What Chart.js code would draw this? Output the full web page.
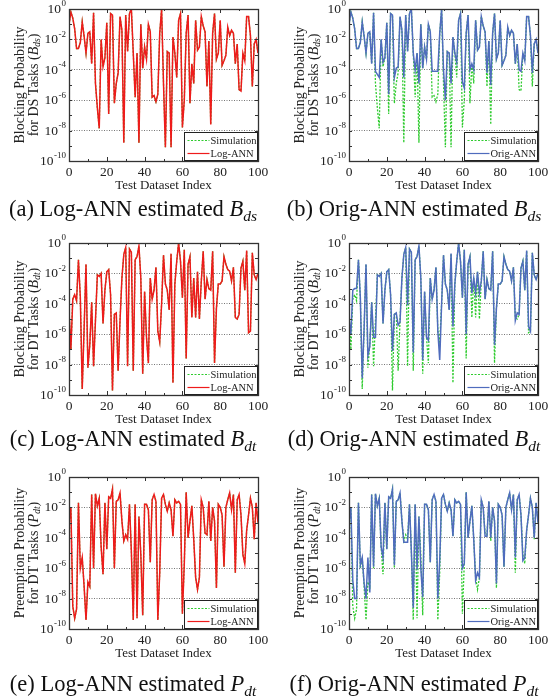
<!DOCTYPE html>
<html>
<head>
<meta charset="utf-8">
<script src="https://cdn.jsdelivr.net/npm/chart.js@4.4.1/dist/chart.umd.min.js"></script>
<style>
  body { margin: 0; background: #fff; }
  #fig { position: relative; width: 557px; height: 698px; overflow: hidden; }
  .panel { position: absolute; width: 280px; height: 200px; }
  .cap { position: absolute; width: 290px; text-align: center; font-family: "Liberation Serif", serif; font-size: 22.5px; color: #111; white-space: nowrap; }
  .cap sub { font-size: 15.5px; vertical-align: -5px; line-height: 0; }
</style>
</head>
<body>
<div id="fig"></div>
<script>
// values are log10 of the probability (index 0..100)
var simDsLog = [
  -1.0,-0.2,-0.6,-1.3,-2.6,-2.6,-2.2,-0.85,-1.8,-2.9,
  -1.6,-1.5,-3.6,-0.25,-4.9,-6.5,-7.85,-2.0,-3.8,-3.2,
  -0.9,-6.9,-0.3,-0.4,-6.2,-4.9,-4.2,-0.5,-1.4,-8.8,
  -0.4,-2.8,-0.3,0,-2.9,-5.8,-2.9,-8.8,-1.0,-3.9,
  -2.5,-3.3,-1.0,-1.5,-5.8,-5.7,-6.1,-5.6,-1.6,0,
  -4.9,-9.1,-2.8,-2.9,-9.1,-1.85,-2.9,-4.5,-0.75,-0.3,
  -7.8,-6.0,-1.6,-0.4,-6.2,-3.6,-4.9,-0.75,-2.7,-2.5,
  -0.5,-1.1,-1.5,-5.1,-2.1,-7.6,-1.6,-0.3,-3.3,-2.9,
  -0.75,-3.7,-3.4,-3.05,-1.2,-1.75,-1.4,-1.6,-3.6,-2.3,
  -5.3,-5.4,-2.9,-3.4,-0.5,-0.5,-1.75,-5.1,-2.3,-2.0,
  -2.9
];
var origDsLog = [
  -1.0,-0.2,-0.6,-1.3,-2.6,-2.6,-2.2,-0.85,-1.8,-2.9,
  -1.6,-1.5,-3.6,-0.25,-4.1,-4.3,-4.5,-2.0,-3.5,-3.2,
  -0.9,-5.6,-0.3,-0.4,-4.5,-3.9,-3.8,-0.5,-1.4,-4.5,
  -0.4,-2.8,-0.3,0,-2.9,-4.0,-2.9,-4.9,-1.0,-3.9,
  -2.5,-3.3,-1.0,-1.5,-4.1,-4.1,-4.1,-4.1,-1.6,0,
  -4.0,-6.0,-2.8,-2.9,-4.9,-1.85,-2.9,-3.5,-0.75,-0.3,
  -4.8,-5.2,-1.6,-0.4,-4.0,-3.6,-4.0,-0.75,-2.7,-2.5,
  -0.5,-1.1,-1.5,-4.2,-2.1,-5.0,-1.6,-0.3,-3.3,-2.9,
  -0.75,-3.7,-3.4,-3.05,-1.2,-1.75,-1.4,-1.6,-3.6,-2.3,
  -4.0,-4.1,-2.9,-3.4,-0.5,-0.5,-1.75,-4.2,-2.3,-2.0,
  -2.9
];
var simDtLog = [
  -4.5,-7.0,-3.7,-3.4,-3.8,-1.1,-3.6,-9.6,-5.6,-1.4,
  -8.2,-6.7,-3.9,-8.1,-5.1,-2.1,-2.2,-2.0,-5.3,-3.1,
  -1.9,-1.75,-3.4,-9.7,-4.7,-4.6,-8.4,-5.1,-2.3,-0.75,
  -0.3,-8.1,-0.4,-0.6,-8.4,-1.1,-0.9,-0.2,-2.3,-8.6,
  -3.2,-6.2,-7.9,-2.3,-3.7,-3.1,-1.6,-5.8,-6.5,-4.0,
  -0.8,-2.7,-3.1,-4.4,-0.7,-9.2,-2.7,-1.2,0,-1.2,
  -3.6,-0.45,-7.6,-1.4,-0.9,-4.9,-2.3,-4.9,-1.9,-5.0,
  -2.5,-0.55,-3.7,-2.4,-3.0,-3.1,-0.55,-7.9,-4.3,-2.7,
  -2.7,-2.5,-0.9,-1.4,-1.75,-1.85,-2.5,-1.6,-4.9,-5.0,
  -4.7,-1.65,-1.2,-3.1,-0.5,-5.9,-5.8,-0.65,-2.1,-2.4,
  -2.0
];
var origDtLog = [
  -5.0,-6.0,-3.1,-3.0,-3.0,-1.1,-3.6,-8.9,-5.6,-1.4,
  -7.4,-6.8,-3.9,-6.2,-6.2,-2.1,-2.2,-2.0,-5.3,-3.1,
  -1.9,-1.75,-3.4,-7.1,-4.7,-4.6,-5.4,-5.2,-2.3,-0.75,
  -0.3,-4.1,-0.4,-0.6,-7.2,-1.1,-0.9,-0.2,-2.3,-7.7,
  -3.2,-6.2,-6.4,-2.3,-3.7,-3.1,-1.6,-5.8,-7.7,-4.0,
  -0.8,-2.7,-3.1,-4.4,-0.7,-5.5,-2.7,-1.2,0,-1.2,
  -3.6,-0.45,-6.0,-1.4,-0.9,-3.3,-2.3,-3.3,-1.9,-3.3,
  -2.5,-0.55,-3.7,-2.4,-3.0,-3.1,-0.55,-6.7,-4.3,-2.7,
  -2.7,-2.5,-0.9,-1.4,-1.75,-1.85,-2.5,-1.6,-5.1,-4.6,
  -4.7,-1.65,-1.2,-3.1,-0.5,-5.5,-5.8,-0.65,-2.1,-2.4,
  -2.0
];
var simPdtLog = [
  -3.0,-2.0,-8.5,-9.3,-8.7,-1.7,-6.0,-5.3,-7.2,-9.4,
  -6.9,-7.2,-1.15,-6.0,-1.1,-1.9,-1.4,-4.6,-6.4,-1.7,
  -4.75,-1.3,-1.4,-0.8,-6.0,-1.6,-1.5,-1.05,-2.9,-4.2,
  -3.8,-4.1,-1.8,-4.9,-9.4,-1.8,-9.3,-2.6,-5.1,-9.1,
  -1.8,-1.8,-2.15,-5.6,-1.5,-1.15,-1.6,-9.4,-6.3,-1.4,
  -1.15,-1.8,-2.25,-1.7,-2.15,-3.9,-1.5,-1.7,-1.6,-1.8,
  -9.0,-5.7,-1.0,-4.0,-2.9,-1.9,-4.1,-6.6,-7.4,-6.6,
  -1.5,-2.0,-3.7,-3.8,-1.6,-4.2,-2.0,-2.9,-7.3,-1.8,
  -2.0,-2.5,-5.9,-2.0,-1.5,-1.05,-2.15,-1.15,-6.3,-1.5,
  -1.15,-2.5,-5.1,-5.7,-3.5,-2.5,-1.4,-2.0,-4.1,-1.7,
  -3.0
];
var origPdtLog = [
  -3.0,-2.0,-6.8,-8.0,-8.0,-1.7,-5.8,-5.3,-7.0,-8.0,
  -5.3,-7.6,-1.15,-5.9,-1.1,-1.9,-1.4,-4.6,-5.3,-1.7,
  -4.75,-1.3,-1.4,-0.8,-5.8,-1.6,-1.5,-1.05,-2.9,-4.3,
  -4.3,-4.3,-1.8,-4.9,-8.6,-1.8,-6.1,-2.6,-6.0,-7.9,
  -1.8,-1.8,-2.15,-5.6,-1.5,-1.15,-1.6,-8.0,-5.5,-1.4,
  -1.15,-1.8,-2.25,-1.7,-2.15,-3.9,-1.5,-1.7,-1.6,-1.8,
  -6.0,-5.7,-1.0,-4.0,-2.9,-1.9,-4.1,-6.8,-6.3,-6.6,
  -1.5,-2.0,-3.9,-3.9,-1.6,-4.0,-2.0,-2.9,-7.0,-1.8,
  -2.0,-2.5,-5.9,-2.0,-1.5,-1.05,-2.15,-1.15,-5.3,-1.5,
  -1.15,-2.5,-5.5,-5.3,-3.5,-2.5,-1.4,-2.0,-4.0,-1.7,
  -3.0
];
// Log-ANN sits on top of the simulation curve everywhere
var logAnnDsLog = simDsLog;
var logAnnDtLog = simDtLog;
var logAnnPdtLog = simPdtLog;

var xTicks = [0, 20, 40, 60, 80, 100];
var yDecades = [-10, -9, -8, -7, -6, -5, -4, -3, -2, -1, 0];

var SERIF = '"Liberation Serif", "Times New Roman", serif';
var GREEN = '#2fcb2f';
var RED = '#ee1b1b';
var BLUE = '#4f6cbd';

var panels = [
  {tag:'a', col:0, row:0, sim:simDsLog, est:logAnnDsLog, name:'Log-ANN', color:RED, line1:'Blocking Probability', pre:'for DS Tasks (', sym:'B', sub:'ds'},
  {tag:'b', col:1, row:0, sim:simDsLog, est:origDsLog, name:'Orig-ANN', color:BLUE, line1:'Blocking Probability', pre:'for DS Tasks (', sym:'B', sub:'ds'},
  {tag:'c', col:0, row:1, sim:simDtLog, est:logAnnDtLog, name:'Log-ANN', color:RED, line1:'Blocking Probability', pre:'for DT Tasks (', sym:'B', sub:'dt'},
  {tag:'d', col:1, row:1, sim:simDtLog, est:origDtLog, name:'Orig-ANN', color:BLUE, line1:'Blocking Probability', pre:'for DT Tasks (', sym:'B', sub:'dt'},
  {tag:'e', col:0, row:2, sim:simPdtLog, est:logAnnPdtLog, name:'Log-ANN', color:RED, line1:'Preemption Probability', pre:'for DT Tasks (', sym:'P', sub:'dt'},
  {tag:'f', col:1, row:2, sim:simPdtLog, est:origPdtLog, name:'Orig-ANN', color:BLUE, line1:'Preemption Probability', pre:'for DT Tasks (', sym:'P', sub:'dt'}
];
var rowTop = [0, 234, 468];
var capTop = [196, 426, 671];

function toPoints(arr) {
  var pts = [];
  for (var i = 0; i < arr.length; i++) pts.push({x: i, y: Math.pow(10, arr[i])});
  return pts;
}

function decorPlugin(p) {
  return {
    id: 'decor' + p.tag,
    afterDraw: function(chart) {
      var ctx = chart.ctx, a = chart.chartArea;
      var xs = chart.scales.x, ys = chart.scales.y;
      ctx.save();
      // frame and inward ticks
      ctx.strokeStyle = '#333';
      ctx.lineWidth = 1;
      ctx.beginPath();
      yDecades.forEach(function(e) {
        var y = Math.round(ys.getPixelForValue(Math.pow(10, e))) + 0.5;
        ctx.moveTo(a.left, y); ctx.lineTo(a.left + 3, y);
        ctx.moveTo(a.right, y); ctx.lineTo(a.right - 3, y);
      });
      for (var v = 0; v <= 100; v += 10) {
        var x = Math.round(xs.getPixelForValue(v)) + 0.5;
        var len = v % 20 === 0 ? 4 : 2;
        ctx.moveTo(x, a.top); ctx.lineTo(x, a.top + len);
        ctx.moveTo(x, a.bottom); ctx.lineTo(x, a.bottom - len);
      }
      ctx.stroke();
      ctx.lineWidth = 1.3;
      ctx.strokeRect(Math.round(a.left) + 0.5, Math.round(a.top) + 0.5, Math.round(a.right - a.left), Math.round(a.bottom - a.top));

      // y tick labels 10^e for even decades
      ctx.fillStyle = '#222';
      ctx.textBaseline = 'middle';
      ctx.textAlign = 'right';
      yDecades.forEach(function(e) {
        if (e % 2 !== 0) return;
        var y = ys.getPixelForValue(Math.pow(10, e));
        var ex = String(e);
        ctx.font = '9px ' + SERIF;
        var ew = ctx.measureText(ex).width;
        ctx.fillText(ex, a.left - 3, y - 5);
        ctx.font = '13.5px ' + SERIF;
        ctx.fillText('10', a.left - 3.5 - ew, y + 0.5);
      });

      // legend box
      var bx = Math.round(a.right) - 74 + 0.5, by = Math.round(a.bottom) - 29 + 0.5;
      ctx.fillStyle = '#fff';
      ctx.fillRect(bx, by, 73, 28);
      ctx.strokeStyle = '#222';
      ctx.lineWidth = 1;
      ctx.strokeRect(bx, by, 73, 28);
      var items = [[ 'Simulation', GREEN, [2, 1.5] ], [ p.name, p.color, [] ]];
      ctx.font = '10.5px ' + SERIF;
      ctx.textBaseline = 'middle';
      ctx.textAlign = 'left';
      items.forEach(function(it, k) {
        var ly = by + 8 + k * 13;
        ctx.strokeStyle = it[1];
        ctx.lineWidth = 1.2;
        ctx.setLineDash(it[2]);
        ctx.beginPath(); ctx.moveTo(bx + 3, ly); ctx.lineTo(bx + 25, ly); ctx.stroke();
        ctx.setLineDash([]);
        ctx.fillStyle = '#222';
        ctx.fillText(it[0], bx + 26, ly + 0.5);
      });

      // y axis title, two lines, rotated
      ctx.translate(0, (a.top + a.bottom) / 2);
      ctx.rotate(-Math.PI / 2);
      ctx.fillStyle = '#222';
      ctx.textBaseline = 'middle';
      ctx.textAlign = 'center';
      ctx.font = '14px ' + SERIF;
      ctx.fillText(p.line1, 0, 20);
      var parts = [[p.pre, '14px ' + SERIF, 0], [p.sym, 'italic 14px ' + SERIF, 0], [p.sub, 'italic 9.5px ' + SERIF, 3], [')', '14px ' + SERIF, 0]];
      var w = 0;
      parts.forEach(function(q){ ctx.font = q[1]; w += ctx.measureText(q[0]).width; });
      var px = -w / 2;
      ctx.textAlign = 'left';
      parts.forEach(function(q){ ctx.font = q[1]; ctx.fillText(q[0], px, 34 + q[2]); px += ctx.measureText(q[0]).width; });
      ctx.restore();
    }
  };
}

var fig = document.getElementById('fig');
panels.forEach(function(p) {
  var box = document.createElement('div');
  box.className = 'panel';
  box.style.left = (p.col * 280) + 'px';
  box.style.top = rowTop[p.row] + 'px';
  var cv = document.createElement('canvas');
  cv.width = 280; cv.height = 200;
  box.appendChild(cv);
  fig.appendChild(box);

  var cap = document.createElement('div');
  cap.className = 'cap';
  cap.style.left = (p.col === 0 ? -12 : 269) + 'px';
  cap.style.top = capTop[p.row] + 'px';
  cap.innerHTML = '(' + p.tag + ') ' + p.name + ' estimated <i>' + p.sym + '<sub>' + p.sub + '</sub></i>';
  fig.appendChild(cap);

  new Chart(cv, {
    type: 'line',
    data: {
      datasets: [
        {label: 'Simulation', data: toPoints(p.sim), borderColor: GREEN, borderWidth: 1.3, borderDash: [2, 1.5], pointRadius: 0, tension: 0, order: 1},
        {label: p.name, data: toPoints(p.est), borderColor: p.color, borderWidth: 1.5, pointRadius: 0, tension: 0, order: 0}
      ]
    },
    options: {
      responsive: false,
      animation: false,
      devicePixelRatio: 1,
      layout: {padding: {top: 9, right: 22, left: 0, bottom: 0}},
      plugins: {legend: {display: false}, tooltip: {enabled: false}},
      scales: {
        x: {
          type: 'linear', min: 0, max: 100,
          afterBuildTicks: function(s) { s.ticks = xTicks.map(function(v){ return {value: v}; }); },
          grid: {display: false, drawTicks: false},
          border: {display: false},
          ticks: {font: {family: SERIF, size: 13.5}, color: '#222', padding: 3, maxRotation: 0, autoSkip: false},
          title: {display: true, text: 'Test Dataset Index', font: {family: SERIF, size: 13}, color: '#222', padding: {top: 0, bottom: 7}},
          afterFit: function(s) { s.height = 39; }
        },
        y: {
          type: 'logarithmic', min: 1e-10, max: 1,
          afterBuildTicks: function(s) { s.ticks = yDecades.map(function(e){ return {value: Math.pow(10, e)}; }); },
          ticks: {display: false},
          grid: {
            drawTicks: false, lineWidth: 0.9,
            color: function(c) {
              var e = Math.round(Math.log10(c.tick.value));
              return (e % 2 === 0 && e > -10 && e < 0) ? '#666' : 'rgba(0,0,0,0)';
            }
          },
          border: {display: false, dash: [1, 1.5]},
          afterFit: function(s) { s.width = 69; }
        }
      }
    },
    plugins: [decorPlugin(p)]
  });
});
</script>
</body>
</html>
